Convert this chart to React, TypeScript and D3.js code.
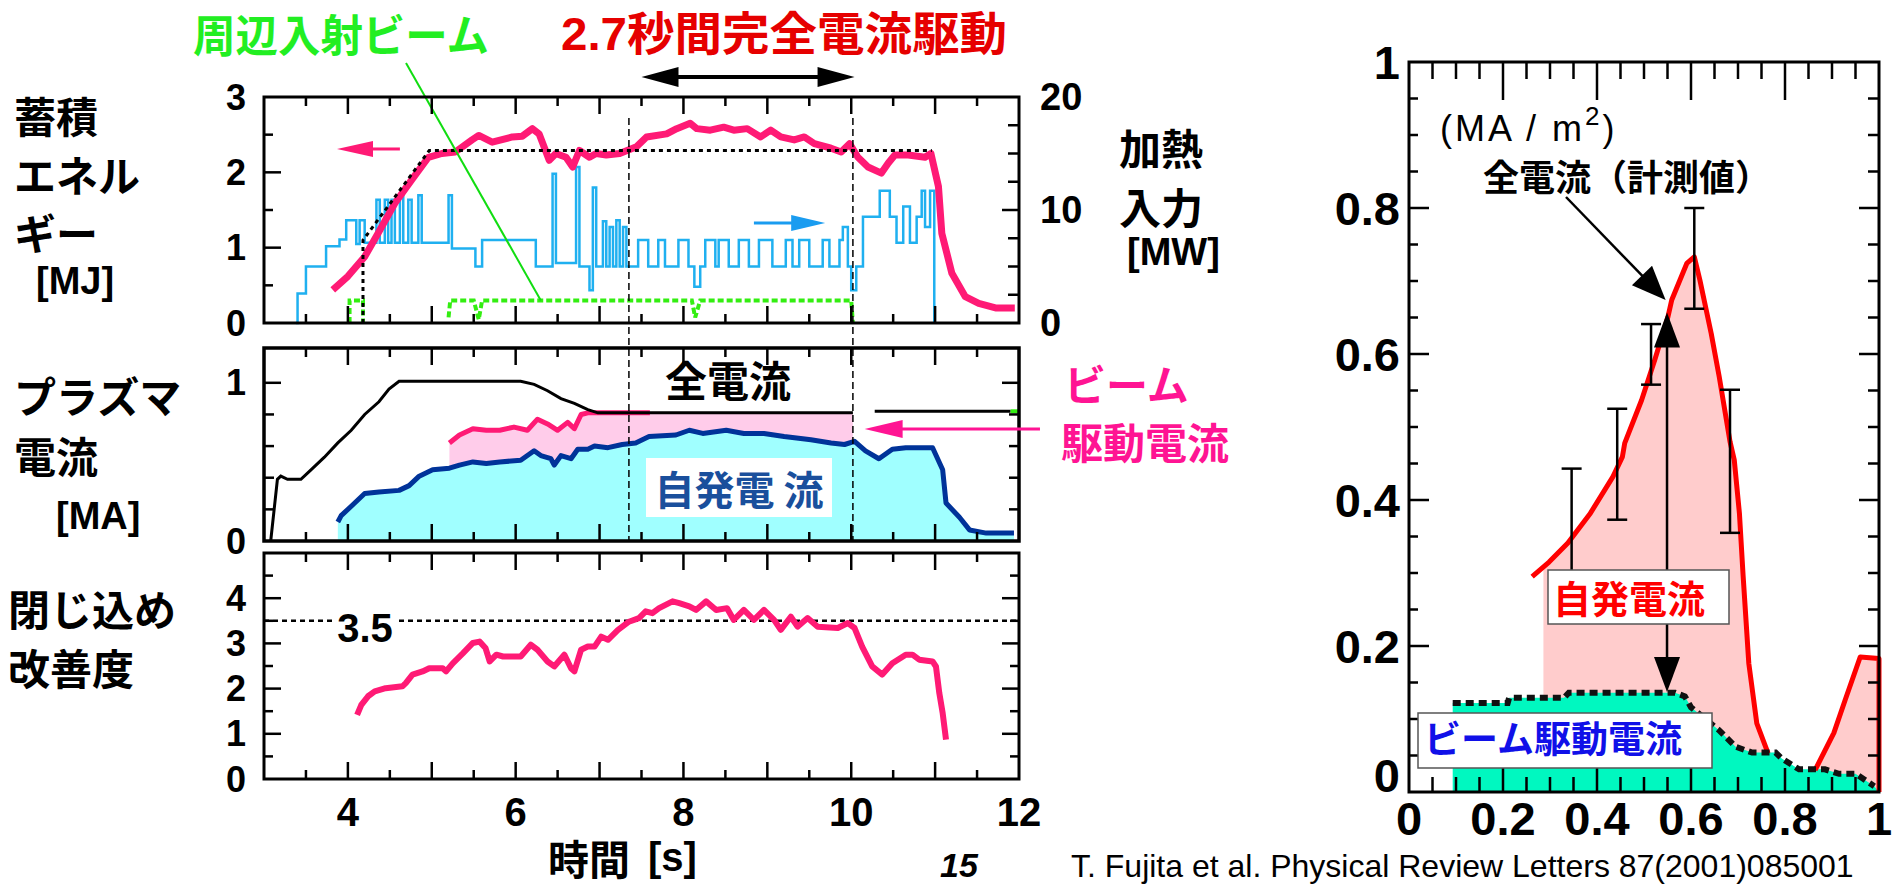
import React from "react";
import * as d3 from "d3";

// ---------- time traces (left panels) ----------
// stored energy [s, MJ]
const storedEnergy: [number, number][] = [
  [3.82, 0.44], [4.0, 0.62], [4.2, 0.88], [4.36, 1.19], [4.56, 1.59], [4.76, 1.9], [4.96, 2.2],
  [5.12, 2.25], [5.28, 2.27], [5.48, 2.43], [5.56, 2.49], [5.72, 2.4], [5.96, 2.47], [6.08, 2.48],
  [6.2, 2.58], [6.28, 2.51], [6.4, 2.16], [6.48, 2.25], [6.6, 2.2], [6.68, 2.07], [6.76, 2.29],
  [6.88, 2.2], [6.96, 2.25], [7.08, 2.23], [7.24, 2.25], [7.44, 2.34], [7.56, 2.47], [7.8, 2.51],
  [7.92, 2.58], [8.08, 2.65], [8.16, 2.58], [8.32, 2.56], [8.48, 2.6], [8.6, 2.56], [8.76, 2.58],
  [8.92, 2.47], [9.04, 2.56], [9.16, 2.47], [9.32, 2.43], [9.44, 2.47], [9.56, 2.38], [9.76, 2.32],
  [9.88, 2.27], [9.98, 2.38], [10.08, 2.2], [10.2, 2.07], [10.36, 1.99], [10.44, 2.12], [10.52, 2.23],
  [10.68, 2.23], [10.88, 2.2], [10.95, 2.25], [11.04, 1.81], [11.08, 1.19], [11.2, 0.66],
  [11.36, 0.35], [11.52, 0.26], [11.72, 0.2], [11.95, 0.2],
];

// reference trapezoid of stored energy [s, MJ]
const energyGuide: [number, number][] = [[4.18, 0], [4.18, 1.1], [4.97, 2.29], [10.96, 2.29]];

// heating power, step values [start s, MW]
const heatingPower: [number, number][] = [
  [3.38, 0], [3.4, 2.6], [3.5, 5.0], [3.74, 6.8], [3.9, 7.4], [3.98, 9.1], [4.1, 7.0], [4.14, 9.1],
  [4.2, 7.1], [4.34, 10.9], [4.38, 7.1], [4.44, 10.9], [4.48, 7.1], [4.52, 10.9], [4.56, 7.1],
  [4.62, 11.3], [4.66, 7.1], [4.72, 10.9], [4.76, 7.1], [4.84, 11.3], [4.88, 7.1], [5.2, 11.3],
  [5.24, 6.6], [5.52, 5.0], [5.6, 7.35], [6.24, 5.0], [6.44, 13.2], [6.48, 5.3], [6.72, 13.8],
  [6.76, 5.0], [6.88, 2.9], [6.92, 12.0], [6.96, 5.0], [7.04, 9.0], [7.08, 5.0], [7.12, 8.5],
  [7.16, 5.0], [7.2, 9.1], [7.24, 5.0], [7.28, 8.5], [7.32, 5.0], [7.46, 7.35], [7.58, 5.0],
  [7.7, 7.35], [7.78, 5.0], [7.94, 7.35], [8.06, 5.0], [8.13, 3.2], [8.2, 5.0], [8.26, 7.35],
  [8.38, 5.0], [8.42, 7.35], [8.54, 5.0], [8.66, 7.35], [8.78, 5.0], [8.9, 7.35], [9.06, 5.0],
  [9.22, 7.35], [9.3, 5.0], [9.38, 7.35], [9.5, 5.0], [9.66, 7.35], [9.74, 5.0], [9.86, 7.35],
  [9.9, 8.5], [9.96, 5.0], [10.0, 2.9], [10.06, 5.0], [10.14, 9.4], [10.34, 11.7], [10.46, 9.4],
  [10.54, 7.1], [10.62, 10.3], [10.7, 7.1], [10.78, 9.4], [10.84, 11.7], [10.88, 8.5],
  [10.94, 11.7], [10.99, 0],
];

// peripheral beam power [s, MW]; null splits the pulses
const peripheralBeam: ([number, number] | null)[] = [
  [4.02, 0], [4.02, 2.0], [4.18, 2.0], [4.18, 0], null,
  [5.2, 0.5], [5.22, 2.0], [5.5, 2.0], [5.56, 0.3], [5.6, 2.0], [8.1, 2.0], [8.14, 0.5],
  [8.2, 2.0], [10.0, 2.0], [10.02, 0],
];

// plasma current [s, MA]
const totalCurrent: ([number, number] | null)[] = [
  [3.08, 0], [3.16, 0.39], [3.2, 0.41], [3.28, 0.39], [3.44, 0.39], [3.56, 0.45], [3.72, 0.53],
  [3.88, 0.62], [4.04, 0.7], [4.2, 0.8], [4.37, 0.88], [4.49, 0.96], [4.61, 1.01], [6.06, 1.01],
  [6.22, 0.99], [6.38, 0.95], [6.54, 0.9], [6.7, 0.87], [6.86, 0.83], [6.98, 0.81], [10.02, 0.81],
  null, [10.28, 0.82], [11.9, 0.82],
];

// bootstrap + beam-driven current [s, MA]
const beamDrivenTop: [number, number][] = [
  [5.21, 0.62], [5.33, 0.67], [5.49, 0.71], [5.65, 0.7], [5.81, 0.7], [5.98, 0.72], [6.14, 0.7],
  [6.26, 0.77], [6.38, 0.74], [6.5, 0.7], [6.62, 0.75], [6.7, 0.71], [6.78, 0.8], [6.86, 0.81],
  [7.6, 0.81], [10.02, 0.81],
];

// bootstrap current [s, MA]
const bootstrapCurrent: [number, number][] = [
  [3.88, 0.12], [3.92, 0.16], [4.04, 0.22], [4.2, 0.3], [4.37, 0.31], [4.61, 0.32], [4.73, 0.35],
  [4.85, 0.41], [5.01, 0.45], [5.21, 0.46], [5.33, 0.48], [5.49, 0.5], [5.65, 0.49], [5.81, 0.5],
  [6.06, 0.51], [6.22, 0.57], [6.3, 0.54], [6.42, 0.52], [6.46, 0.48], [6.54, 0.54], [6.66, 0.52],
  [6.74, 0.58], [6.86, 0.58], [6.94, 0.6], [7.1, 0.59], [7.27, 0.61], [7.43, 0.62], [7.59, 0.66],
  [7.91, 0.67], [8.07, 0.7], [8.23, 0.68], [8.51, 0.7], [8.72, 0.68], [8.96, 0.68], [9.2, 0.66],
  [9.52, 0.64], [9.76, 0.62], [9.92, 0.61], [10.04, 0.63], [10.17, 0.57], [10.33, 0.52],
  [10.49, 0.58], [10.65, 0.59], [10.97, 0.59], [11.09, 0.45], [11.13, 0.24], [11.29, 0.15],
  [11.41, 0.07], [11.61, 0.05], [11.94, 0.05],
];

// confinement improvement factor [s, -]
const confinement: [number, number][] = [
  [4.11, 1.42], [4.16, 1.64], [4.24, 1.83], [4.32, 1.94], [4.45, 2.01], [4.65, 2.05], [4.69, 2.12],
  [4.77, 2.31], [4.89, 2.38], [4.97, 2.45], [5.13, 2.45], [5.17, 2.38], [5.25, 2.56], [5.37, 2.78],
  [5.49, 3.01], [5.57, 3.04], [5.64, 2.9], [5.69, 2.6], [5.77, 2.75], [5.85, 2.71], [6.06, 2.71],
  [6.18, 2.97], [6.26, 2.86], [6.38, 2.6], [6.46, 2.49], [6.58, 2.75], [6.66, 2.45], [6.7, 2.38],
  [6.78, 2.86], [6.86, 2.93], [6.94, 2.93], [7.02, 3.15], [7.1, 3.08], [7.22, 3.3], [7.35, 3.48],
  [7.47, 3.56], [7.55, 3.71], [7.63, 3.67], [7.71, 3.78], [7.87, 3.93], [7.95, 3.89], [8.07, 3.82],
  [8.15, 3.74], [8.27, 3.93], [8.39, 3.74], [8.52, 3.78], [8.6, 3.52], [8.72, 3.74], [8.84, 3.52],
  [8.96, 3.74], [9.08, 3.52], [9.16, 3.3], [9.28, 3.59], [9.36, 3.37], [9.48, 3.56], [9.6, 3.37],
  [9.84, 3.34], [9.96, 3.45], [10.04, 3.34], [10.13, 2.93], [10.25, 2.49], [10.37, 2.31],
  [10.49, 2.56], [10.65, 2.75], [10.73, 2.75], [10.81, 2.64], [10.97, 2.6], [11.01, 2.49],
  [11.05, 1.9], [11.09, 1.46], [11.13, 0.87],
];

const fullDriveWindow = [7.35, 10.02];
const confinementRef = 3.5;

const xTickLabels = [4, 6, 8, 10, 12];
const energyTickLabels = [0, 1, 2, 3];
const powerTickLabels = [0, 10, 20];
const currentTickLabels = [0, 1];
const confinementTickLabels = [0, 1, 2, 3, 4];

// ---------- radial profiles (right panel) ----------
// bootstrap current density [rho, MA/m2]
const bootstrapProfile: [number, number][] = [
  [0.262, 0.295], [0.298, 0.315], [0.338, 0.341], [0.386, 0.382], [0.434, 0.432], [0.454, 0.459],
  [0.459, 0.478], [0.495, 0.537], [0.523, 0.592], [0.551, 0.651], [0.559, 0.674], [0.591, 0.724],
  [0.607, 0.733], [0.619, 0.701], [0.643, 0.628], [0.66, 0.569], [0.683, 0.48], [0.692, 0.455],
  [0.703, 0.382], [0.711, 0.295], [0.723, 0.176], [0.74, 0.094], [0.764, 0.053],
];
const bootstrapEdge: [number, number][] = [
  [0.864, 0.03], [0.904, 0.081], [0.928, 0.126], [0.96, 0.185], [1.0, 0.183], [1.0, 0],
];
const bootstrapFillFrom = 0.286;

// beam-driven current density [rho, MA/m2]
const beamProfile: [number, number][] = [
  [0.093, 0.122], [0.21, 0.122], [0.213, 0.129], [0.33, 0.129], [0.34, 0.136], [0.566, 0.136],
  [0.587, 0.131], [0.6, 0.116], [0.659, 0.085], [0.695, 0.062], [0.73, 0.054], [0.78, 0.054],
  [0.793, 0.046], [0.83, 0.031], [0.885, 0.031], [0.915, 0.025], [0.95, 0.025], [0.99, 0.008],
];

// measured total current density with error bars
const measRho = [0.346, 0.443, 0.515, 0.607, 0.683];
const measHigh = [0.443, 0.525, 0.641, 0.8, 0.551];
const measLow = [0.25, 0.373, 0.558, 0.662, 0.355];

const rhoTickLabels = ["0", "0.2", "0.4", "0.6", "0.8", "1"];
const jTickLabels = ["0", "0.2", "0.4", "0.6", "0.8", "1"];

// ---------- scales ----------
const xT = d3.scaleLinear().domain([3, 12]).range([264, 1019]);
const yE = d3.scaleLinear().domain([0, 3]).range([323, 97]);
const yP = d3.scaleLinear().domain([0, 20]).range([323, 97]);
const yI = d3.scaleLinear().domain([0, 1.22]).range([541, 348]);
const yH = d3.scaleLinear().domain([0, 5]).range([779, 553]);
const xR = d3.scaleLinear().domain([0, 1]).range([1409, 1879]);
const yR = d3.scaleLinear().domain([0, 1]).range([792, 62]);

const JP = "'Noto Sans CJK JP', 'Noto Sans CJK SC', sans-serif";
const LAT = "'Liberation Sans', Arial, 'Noto Sans CJK JP', sans-serif";

const PINK = "#ff1a75";
const NAVY = "#003399";

function interp(pts: [number, number][], x: number) {
  for (let i = 1; i < pts.length; i++) {
    const [x0, y0] = pts[i - 1];
    const [x1, y1] = pts[i];
    if (x >= x0 && x <= x1) return x1 === x0 ? y1 : y0 + ((y1 - y0) * (x - x0)) / (x1 - x0);
  }
  return pts[pts.length - 1][1];
}

function head(x1: number, y1: number, x2: number, y2: number, len: number, half: number) {
  const dx = x2 - x1, dy = y2 - y1;
  const L = Math.hypot(dx, dy);
  const ux = dx / L, uy = dy / L;
  const bx = x2 - ux * len, by = y2 - uy * len;
  return `${x2},${y2} ${bx - uy * half},${by + ux * half} ${bx + uy * half},${by - ux * half}`;
}

function Arrow({ x1, y1, x2, y2, color, width, len, half }: any) {
  const dx = x2 - x1, dy = y2 - y1;
  const L = Math.hypot(dx, dy);
  const ex = x2 - (dx / L) * (len - 2), ey = y2 - (dy / L) * (len - 2);
  return (
    <g>
      <line x1={x1} y1={y1} x2={ex} y2={ey} stroke={color} strokeWidth={width} />
      <polygon points={head(x1, y1, x2, y2, len, half)} fill={color} />
    </g>
  );
}

function timeTicks(yTop: number, yBot: number, key: string) {
  const out: any[] = [];
  d3.range(3.5, 12, 0.5).forEach((t) => {
    const major = Math.abs(t - Math.round(t)) < 1e-6;
    const len = major ? 17 : 9;
    out.push(<line key={key + "t" + t} x1={xT(t)} x2={xT(t)} y1={yTop} y2={yTop + len} />);
    out.push(<line key={key + "b" + t} x1={xT(t)} x2={xT(t)} y1={yBot} y2={yBot - len} />);
  });
  return out;
}

function sideTicks(scale: any, values: number[], isMajor: (v: number) => boolean, side: "l" | "r", key: string, lm = 17, ln = 9) {
  const x0 = side === "l" ? xT(3) : xT(12);
  const dir = side === "l" ? 1 : -1;
  return values.map((v) => {
    const len = isMajor(v) ? lm : ln;
    return <line key={key + v} x1={x0} x2={x0 + dir * len} y1={scale(v)} y2={scale(v)} />;
  });
}

const isInt = (v: number) => Math.abs(v - Math.round(v)) < 1e-6;

export default function App() {
  const lineT = (ys: any) =>
    d3.line<any>().defined((d) => d !== null).x((d) => xT(d[0])).y((d) => ys(d[1]));
  const stepP = d3.line<[number, number]>().x((d) => xT(d[0])).y((d) => yP(d[1])).curve(d3.curveStepAfter);
  const lineR = d3.line<[number, number]>().x((d) => xR(d[0])).y((d) => yR(d[1]));

  const cyanArea = d3.area<[number, number]>().x((d) => xT(d[0])).y0(yI(0)).y1((d) => yI(d[1]))(bootstrapCurrent);

  const t0 = beamDrivenTop[0][0];
  const t1 = beamDrivenTop[beamDrivenTop.length - 1][0];
  const pinkPoly: [number, number][] = [
    ...beamDrivenTop,
    [t1, interp(bootstrapCurrent, t1)],
    ...bootstrapCurrent.filter((d) => d[0] > t0 && d[0] < t1).reverse(),
    [t0, interp(bootstrapCurrent, t0)],
  ];
  const pinkStroke = beamDrivenTop.filter((d) => d[0] <= 7.6);

  const bsFill: [number, number][] = [
    [bootstrapFillFrom, interp(bootstrapProfile, bootstrapFillFrom)],
    ...bootstrapProfile.filter((d) => d[0] > bootstrapFillFrom),
    [0.78, 0],
    [bootstrapFillFrom, 0],
  ];
  const edgeFill: [number, number][] = [...bootstrapEdge, [bootstrapEdge[0][0], 0]];
  const beamFill: [number, number][] = [[beamProfile[0][0], 0], ...beamProfile, [1, 0]];

  const tickStyle = { stroke: "#000", strokeWidth: 2.5 };
  const numStyle: any = { fontFamily: LAT, fontWeight: 700, fill: "#000" };
  const jpStyle: any = { fontFamily: JP, fontWeight: 700, fill: "#000" };

  const yPanelBottom = yI(0);

  return (
    <svg width={1892} height={887} style={{ position: "absolute", left: 0, top: 0, background: "#fff" }}>
      <rect x={0} y={0} width={1892} height={887} fill="#fff" />

      {/* titles */}
      <text x={193} y={33} fill="#22ee22" fontFamily={JP} fontWeight={700} fontSize={44} textLength={296}
        lengthAdjust="spacingAndGlyphs" dominantBaseline="central">周辺入射ビーム</text>
      <text x={561} y={34} fill="#e60000" fontFamily={LAT} fontWeight={700} fontSize={46} textLength={446}
        lengthAdjust="spacingAndGlyphs" dominantBaseline="central">2.7秒間完全電流駆動</text>
      {/* full current drive interval */}
      <line x1={xT(7.5) + 30} x2={xT(10.04) - 30} y1={77} y2={77} stroke="#000" strokeWidth={4} />
      <polygon points={head(xT(10.04) - 40, 77, xT(10.04), 77, 37, 10)} fill="#000" />
      <polygon points={head(xT(7.5) + 40, 77, xT(7.5), 77, 37, 10)} fill="#000" />

      {/* ---------- top panel: stored energy & heating power ---------- */}
      <path d={stepP(heatingPower) || ""} fill="none" stroke="#1fb0f0" strokeWidth={2.5} />
      <path d={lineT(yP)(peripheralBeam) || ""} fill="none" stroke="#33ee11" strokeWidth={4} strokeDasharray="6 3" />
      <path d={lineT(yE)(storedEnergy) || ""} fill="none" stroke={PINK} strokeWidth={7} strokeLinejoin="round" />
      <path d={lineT(yE)(energyGuide) || ""} fill="none" stroke="#000" strokeWidth={3} strokeDasharray="4 4" />
      <line x1={406} y1={63} x2={xT(6.3)} y2={yP(2.0)} stroke="#11dd11" strokeWidth={2} />
      <Arrow x1={xT(4.62)} y1={yE(2.31)} x2={xT(3.87)} y2={yE(2.31)} color={PINK} width={3} len={36} half={8} />
      <Arrow x1={xT(8.84)} y1={yP(8.85)} x2={xT(9.69)} y2={yP(8.85)} color="#1a9cf0" width={3} len={34} half={8} />
      <g style={tickStyle}>
        {timeTicks(yE(3), yE(0), "p1")}
        {sideTicks(yE, d3.range(0.5, 3, 0.5), isInt, "l", "p1l")}
        {sideTicks(yP, d3.range(2.5, 20, 2.5), (v) => v % 10 === 0, "r", "p1r", 17, 11)}
      </g>
      <rect x={xT(3)} y={yE(3)} width={xT(12) - xT(3)} height={yE(0) - yE(3)} fill="none" stroke="#000" strokeWidth={3} />
      {energyTickLabels.map((v) => (
        <text key={"el" + v} x={246} y={yE(v)} textAnchor="end" dominantBaseline="central" fontSize={36} {...numStyle}>{v}</text>
      ))}
      {powerTickLabels.map((v) => (
        <text key={"pl" + v} x={1040} y={yP(v)} dominantBaseline="central" fontSize={38} {...numStyle}>{v}</text>
      ))}
      <text x={14} y={114} fontSize={42} dominantBaseline="central" {...jpStyle}>蓄積</text>
      <text x={14} y={173} fontSize={42} dominantBaseline="central" {...jpStyle}>エネル</text>
      <text x={14} y={231} fontSize={42} dominantBaseline="central" {...jpStyle}>ギー</text>
      <text x={36} y={281} fontSize={38} dominantBaseline="central" {...numStyle}>[MJ]</text>
      <text x={1119} y={146} fontSize={42} dominantBaseline="central" {...jpStyle}>加熱</text>
      <text x={1119} y={205} fontSize={42} dominantBaseline="central" {...jpStyle}>入力</text>
      <text x={1127} y={252} fontSize={38} dominantBaseline="central" {...numStyle}>[MW]</text>

      {/* ---------- middle panel: plasma current ---------- */}
      <path d={cyanArea || ""} fill="#a0ffff" />
      <path d={(d3.line<[number, number]>().x((d) => xT(d[0])).y((d) => yI(d[1]))(pinkPoly) || "") + "Z"} fill="#ffccea" />
      <path d={lineT(yI)(bootstrapCurrent) || ""} fill="none" stroke={NAVY} strokeWidth={5} strokeLinejoin="round" />
      <path d={lineT(yI)(pinkStroke) || ""} fill="none" stroke={PINK} strokeWidth={5} strokeLinejoin="round" />
      <path d={lineT(yI)(totalCurrent) || ""} fill="none" stroke="#000" strokeWidth={3} />
      <line x1={xT(11.9)} x2={xT(12)} y1={yI(0.82)} y2={yI(0.82)} stroke="#33ee11" strokeWidth={4} />
      <rect x={646} y={458} width={186} height={59} fill="#fff" />
      <text x={739} y={488} textAnchor="middle" dominantBaseline="central" fontFamily={JP} fontWeight={700}
        fontSize={40} fill="#1a4f9c">自発電 流</text>
      <text x={728} y={378} textAnchor="middle" dominantBaseline="central" fontSize={42} {...jpStyle}>全電流</text>
      <g style={tickStyle}>
        {timeTicks(yI(1.22), yI(0), "p2")}
        {sideTicks(yI, [0.2, 0.4, 0.6, 0.8, 1.0], (v) => v === 1, "l", "p2l", 17, 10)}
        {sideTicks(yI, [0.2, 0.4, 0.6, 0.8, 1.0], (v) => v === 1, "r", "p2r", 17, 10)}
      </g>
      <rect x={xT(3)} y={yI(1.22)} width={xT(12) - xT(3)} height={yI(0) - yI(1.22)} fill="none" stroke="#000" strokeWidth={3.5} />
      {currentTickLabels.map((v) => (
        <text key={"il" + v} x={246} y={yI(v)} textAnchor="end" dominantBaseline="central" fontSize={36} {...numStyle}>{v}</text>
      ))}
      <text x={14} y={394} fontSize={42} dominantBaseline="central" {...jpStyle}>プラズマ</text>
      <text x={14} y={454} fontSize={42} dominantBaseline="central" {...jpStyle}>電流</text>
      <text x={56} y={516} fontSize={38} dominantBaseline="central" {...numStyle}>[MA]</text>
      <text x={1064} y={382} fontSize={42} dominantBaseline="central" fontFamily={JP} fontWeight={700} fill="#ff1493">ビーム</text>
      <text x={1061} y={440} fontSize={42} dominantBaseline="central" fontFamily={JP} fontWeight={700} fill="#ff1493">駆動電流</text>
      <Arrow x1={xT(12.25)} y1={yI(0.708)} x2={xT(10.16)} y2={yI(0.708)} color="#ff1493" width={3} len={38} half={9} />

      {/* full current drive window markers */}
      {fullDriveWindow.map((t) => (
        <line key={"w" + t} x1={xT(t)} x2={xT(t)} y1={118} y2={yPanelBottom} stroke="#000" strokeWidth={1.5} strokeDasharray="7 4" />
      ))}

      {/* ---------- bottom panel: confinement improvement ---------- */}
      <line x1={xT(3)} x2={xT(12)} y1={yH(confinementRef)} y2={yH(confinementRef)} stroke="#000" strokeWidth={2.5} strokeDasharray="5 4" />
      <rect x={335} y={610} width={60} height={34} fill="#fff" />
      <text x={365} y={628} textAnchor="middle" dominantBaseline="central" fontSize={40} {...numStyle}>{confinementRef}</text>
      <path d={lineT(yH)(confinement) || ""} fill="none" stroke={PINK} strokeWidth={6} strokeLinejoin="round" />
      <g style={tickStyle}>
        {timeTicks(yH(5), yH(0), "p3")}
        {sideTicks(yH, d3.range(0.5, 5, 0.5), isInt, "l", "p3l")}
        {sideTicks(yH, d3.range(0.5, 5, 0.5), isInt, "r", "p3r")}
      </g>
      <rect x={xT(3)} y={yH(5)} width={xT(12) - xT(3)} height={yH(0) - yH(5)} fill="none" stroke="#000" strokeWidth={3} />
      {confinementTickLabels.map((v) => (
        <text key={"hl" + v} x={246} y={yH(v)} textAnchor="end" dominantBaseline="central" fontSize={36} {...numStyle}>{v}</text>
      ))}
      {xTickLabels.map((v) => (
        <text key={"xl" + v} x={xT(v)} y={812} textAnchor="middle" dominantBaseline="central" fontSize={40} {...numStyle}>{v}</text>
      ))}
      <text x={8} y={607} fontSize={42} dominantBaseline="central" {...jpStyle}>閉じ込め</text>
      <text x={8} y={666} fontSize={42} dominantBaseline="central" {...jpStyle}>改善度</text>
      <text x={548} y={857} fontSize={41} dominantBaseline="central" {...jpStyle}>時間</text>
      <text x={648} y={857} fontSize={40} dominantBaseline="central" {...numStyle}>[s]</text>

      {/* ---------- right panel: current density profiles ---------- */}
      <path d={(lineR(bsFill) || "") + "Z"} fill="#ffcccc" />
      <path d={(lineR(edgeFill) || "") + "Z"} fill="#ffcccc" />
      <path d={(lineR(beamFill) || "") + "Z"} fill="#00f8c0" />
      <path d={lineR(bootstrapProfile) || ""} fill="none" stroke="#ff0000" strokeWidth={5} strokeLinejoin="round" />
      <path d={lineR(bootstrapEdge) || ""} fill="none" stroke="#ff0000" strokeWidth={5} strokeLinejoin="round" />
      <path d={lineR(beamProfile) || ""} fill="none" stroke="#111" strokeWidth={6} strokeDasharray="8 5" />
      {measRho.map((r, i) => (
        <g key={"eb" + i} stroke="#000" strokeWidth={2.5}>
          <line x1={xR(r)} x2={xR(r)} y1={yR(measHigh[i])} y2={yR(measLow[i])} />
          <line x1={xR(r) - 10} x2={xR(r) + 10} y1={yR(measHigh[i])} y2={yR(measHigh[i])} />
          <line x1={xR(r) - 10} x2={xR(r) + 10} y1={yR(measLow[i])} y2={yR(measLow[i])} />
        </g>
      ))}
      {/* total vs beam-driven at rho = 0.55 */}
      <line x1={xR(0.549)} x2={xR(0.549)} y1={yR(0.62)} y2={yR(0.17)} stroke="#000" strokeWidth={2.5} />
      <polygon points={head(xR(0.549), yR(0.4), xR(0.549), yR(0.657), 35, 13)} fill="#000" />
      <polygon points={head(xR(0.549), yR(0.4), xR(0.549), yR(0.137), 35, 13)} fill="#000" />
      <Arrow x1={1566} y1={197} x2={xR(0.546)} y2={yR(0.674)} color="#000" width={2.5} len={34} half={14} />

      <g style={tickStyle}>
        {d3.range(0.05, 0.99, 0.05).map((v) => {
          const major = Math.abs(v / 0.2 - Math.round(v / 0.2)) < 1e-6;
          return (
            <g key={"rx" + v}>
              <line x1={xR(v)} x2={xR(v)} y1={yR(1)} y2={yR(1) + (major ? 38 : 17)} />
              <line x1={xR(v)} x2={xR(v)} y1={yR(0)} y2={yR(0) - (major ? 24 : 15)} />
              <line x1={xR(0)} x2={xR(0) + (major ? 20 : 9)} y1={yR(v)} y2={yR(v)} />
              <line x1={xR(1)} x2={xR(1) - (major ? 20 : 11)} y1={yR(v)} y2={yR(v)} />
            </g>
          );
        })}
      </g>
      <rect x={xR(0)} y={yR(1)} width={xR(1) - xR(0)} height={yR(0) - yR(1)} fill="none" stroke="#000" strokeWidth={3} />

      <rect x={1548} y={570} width={181} height={54} fill="#fff" stroke="#555" strokeWidth={1.5} />
      <text x={1553} y={596} dominantBaseline="central" fontFamily={JP} fontWeight={700} fontSize={38} fill="#ff0000">自発電流</text>
      <rect x={1418} y={713} width={294} height={55} fill="#fff" stroke="#555" strokeWidth={1.5} />
      <text x={1424} y={737} dominantBaseline="central" fontFamily={JP} fontWeight={700} fontSize={37} fill="#1010e8">ビーム駆動電流</text>

      <text x={1440} y={128} dominantBaseline="central" fontFamily={LAT} fontSize={36} fill="#000" letterSpacing={3}>
        (MA / m<tspan fontSize={26} dy={-12}>2</tspan><tspan dy={12}>)</tspan>
      </text>
      <text x={1483} y={175} dominantBaseline="central" fontSize={36} {...jpStyle}>全電流（計測値）</text>

      {jTickLabels.map((s, i) => {
        const v = i * 0.2;
        return s === "0" ? (
          <text key={"jl" + i} x={1400} y={yR(0)} textAnchor="end" fontSize={47} {...numStyle}>{s}</text>
        ) : (
          <text key={"jl" + i} x={1400} y={yR(v)} textAnchor="end" dominantBaseline="central" fontSize={47} {...numStyle}>{s}</text>
        );
      })}
      {rhoTickLabels.map((s, i) => (
        <text key={"rl" + i} x={xR(i * 0.2)} y={818} textAnchor="middle" dominantBaseline="central" fontSize={47} {...numStyle}>{s}</text>
      ))}

      {/* footer */}
      <text x={940} y={877} fontFamily={LAT} fontWeight={700} fontStyle="italic" fontSize={34} fill="#000">15</text>
      <text x={1071} y={877} fontFamily={LAT} fontSize={32} fill="#000">T. Fujita et al. Physical Review Letters 87(2001)085001</text>
    </svg>
  );
}
